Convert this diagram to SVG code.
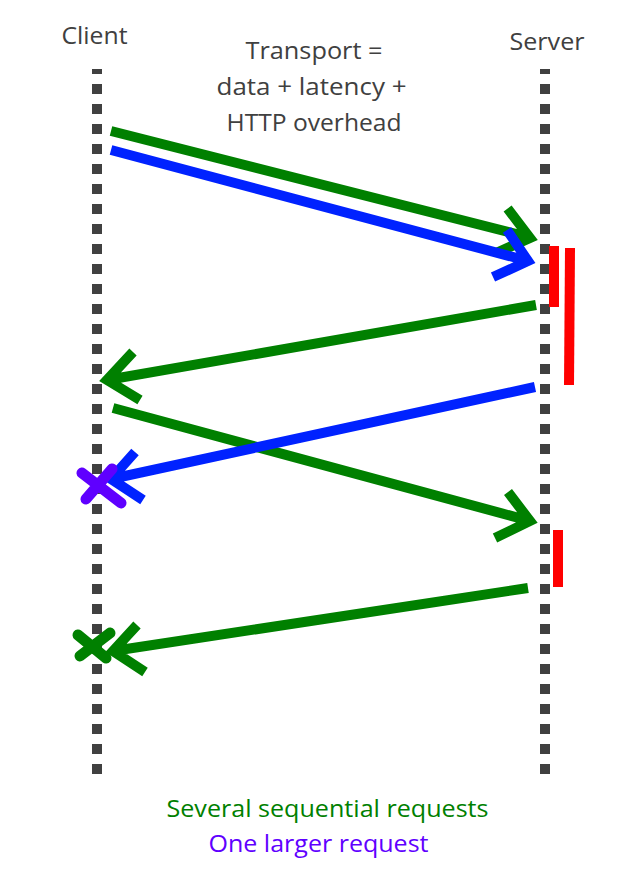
<svg xmlns="http://www.w3.org/2000/svg" width="623" height="871" viewBox="0 0 623 871">
<style>
.t{font-family:"Open Sans","Liberation Sans",sans-serif;font-size:24px;text-anchor:middle}
.life{stroke:#404040;stroke-width:10;stroke-dasharray:10 10;stroke-dashoffset:5;fill:none}
.arr{fill:none;stroke-width:10;stroke-linejoin:miter;stroke-miterlimit:10}
.g{stroke:#008000}
.b{stroke:#0022ff}
.red{fill:#ff0000}
.x{fill:none;stroke-width:11;stroke-linecap:round}
</style>
<rect width="623" height="871" fill="#fff"/>
<g id="client">
<text class="t" x="94.5" y="44" fill="#404040" textLength="66" lengthAdjust="spacingAndGlyphs">Client</text>
<line class="life" x1="97" y1="69" x2="97" y2="775"/>
</g>
<g id="server">
<text class="t" x="547" y="50" fill="#404040" textLength="75" lengthAdjust="spacingAndGlyphs">Server</text>
<line class="life" x1="545" y1="69" x2="545" y2="775"/>
</g>
<g id="transport-label">
<text class="t" x="314" y="59" fill="#404040" textLength="137" lengthAdjust="spacingAndGlyphs">Transport =</text>
<text class="t" x="311.5" y="95" fill="#404040" textLength="190" lengthAdjust="spacingAndGlyphs">data + latency +</text>
<text class="t" x="314" y="131" fill="#404040" textLength="175" lengthAdjust="spacingAndGlyphs">HTTP overhead</text>
</g>
<g id="processing">
<rect class="red" x="549" y="246" width="10" height="61"/>
<polygon class="red" points="565,248 575,248 574,385 564,385"/>
<rect class="red" x="553" y="530" width="10" height="57"/>
</g>
<g id="connectors">
<path class="arr g" d="M111,131 L528,237 M507.6,208.5 L530,238 L496,253"/>
<path class="arr b" d="M111,150 L528,261 M507,230 L528,261 L493,277"/>
<path class="arr g" d="M536,305 L107,380 M133,352 L107,380 L140,400"/>
<path class="arr g" d="M113,408 L530,521 M508,492 L530,521 L495,538"/>
<path class="arr b" d="M535,387 L111,479 M135,452 L111,479 L143,500"/>
<path class="arr g" d="M528,588 L113,651 M137,625 L113,651 L145,672"/>
</g>
<g id="fail-large">
<path class="x" stroke="#5f00ff" d="M82,473 L121,503 M86,499 L112,469"/>
</g>
<g id="fail-seq">
<path class="x" stroke="#008000" d="M78,635 L106,658 M80,656 L110,633"/>
</g>
<g id="legend">
<text class="t" x="327.5" y="817" fill="#008000" textLength="322" lengthAdjust="spacingAndGlyphs">Several sequential requests</text>
<text class="t" x="318.5" y="852" fill="#5f00ff" textLength="220" lengthAdjust="spacingAndGlyphs">One larger request</text>
</g>
</svg>
